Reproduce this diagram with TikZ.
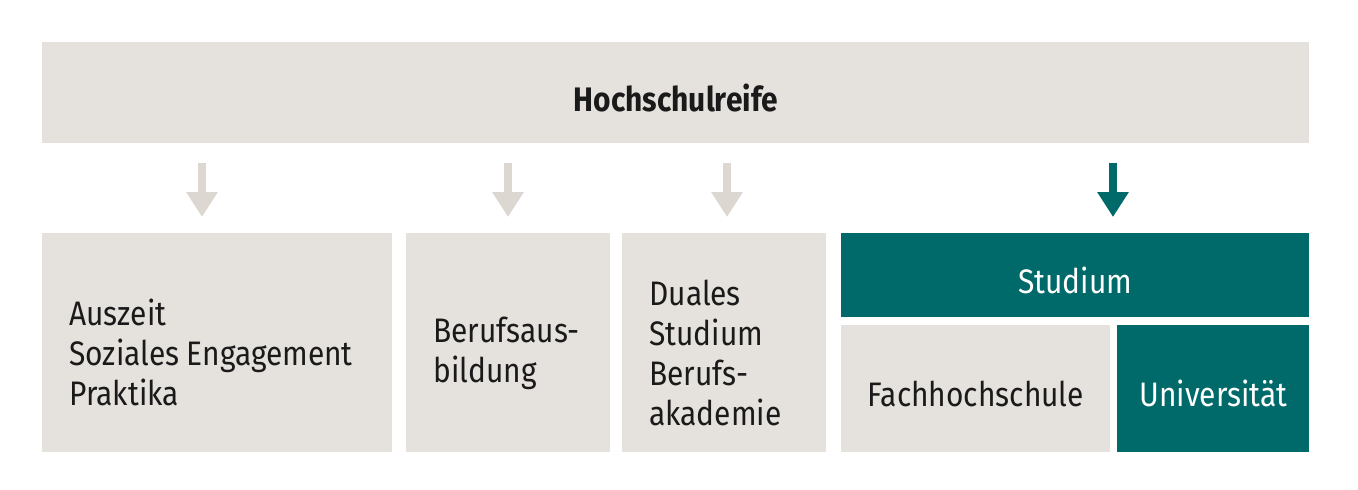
\documentclass[tikz,border=0pt]{standalone}
\usepackage{fontspec}
\setmainfont{Fira Sans}[FakeStretch=0.88, WordSpace=0.95]
\usetikzlibrary{arrows.meta}

\definecolor{sand}{RGB}{229,226,221}
\definecolor{sanddark}{RGB}{220,215,209}
\definecolor{petrol}{RGB}{0,106,106}
\definecolor{ink}{RGB}{26,26,26}

\tikzset{
  field/.style={fill=sand, anchor=north west, inner sep=0pt},
  gfield/.style={field, fill=petrol},
  txt/.style={text=ink, inner sep=0pt, font=\fontsize{17pt}{20pt}\selectfont},
  ltxt/.style={txt, anchor=west, align=left, xshift=13.5pt, yshift=-5pt},
  ctxt/.style={txt, yshift=-2.5pt},
  gray arrow/.style={draw=sanddark, line width=4pt, -{Triangle[width=15pt,length=12.5pt]}},
  teal arrow/.style={gray arrow, draw=petrol}
}

\begin{document}
\begin{tikzpicture}[x=0.5pt,y=0.5pt,yscale=-1,xscale=1]

\useasboundingbox (0,0) rectangle (1358,489);

% boxes
\node[field, minimum width=633.5pt, minimum height=50.5pt] (reife) at (42,42) {};
\node[field, minimum width=175pt, minimum height=109.5pt] (auszeit) at (42,233) {};
\node[field, minimum width=102pt, minimum height=109.5pt] (ausbildung) at (406,233) {};
\node[field, minimum width=102pt, minimum height=109.5pt] (dual) at (622,233) {};
\node[gfield, minimum width=234pt, minimum height=42pt] (studium) at (841,233) {};
\node[field, minimum width=134.5pt, minimum height=63.5pt] (fh) at (841,325) {};
\node[gfield, minimum width=96pt, minimum height=63.5pt] (uni) at (1117,325) {};

% texts
\node[ctxt, font=\bfseries\fontsize{17pt}{20pt}\selectfont] (reifetext) at (reife.center) {Hochschulreife};
\node[ltxt] (auszeittext) at (auszeit.west) {Auszeit\\Soziales Engagement\\Praktika};
\node[ltxt] (ausbildungtext) at (ausbildung.west) {Berufsaus-\\bildung};
\node[ltxt] (dualtext) at (dual.west) {Duales\\Studium\\Berufs-\\akademie};
\node[ctxt, text=white] (studiumtext) at (studium.center) {Studium};
\node[ctxt] (fhtext) at (fh.center) {Fachhochschule};
\node[ctxt, text=white] (unitext) at (uni.center) {Universität};

% arrows
\coordinate (p1) at (202,0);
\coordinate (p2) at (508,0);
\coordinate (p3) at (727,0);
\coordinate (p4) at (1113,0);

\draw[gray arrow, shorten <=9.5pt, shorten >=8pt] (reife.south -| p1) -- (auszeit.north -| p1);
\draw[gray arrow, shorten <=9.5pt, shorten >=8pt] (reife.south -| p2) -- (ausbildung.north -| p2);
\draw[gray arrow, shorten <=9.5pt, shorten >=8pt] (reife.south -| p3) -- (dual.north -| p3);
\draw[teal arrow, shorten <=9.5pt, shorten >=8pt] (reife.south -| p4) -- (studium.north -| p4);

\end{tikzpicture}
\end{document}
